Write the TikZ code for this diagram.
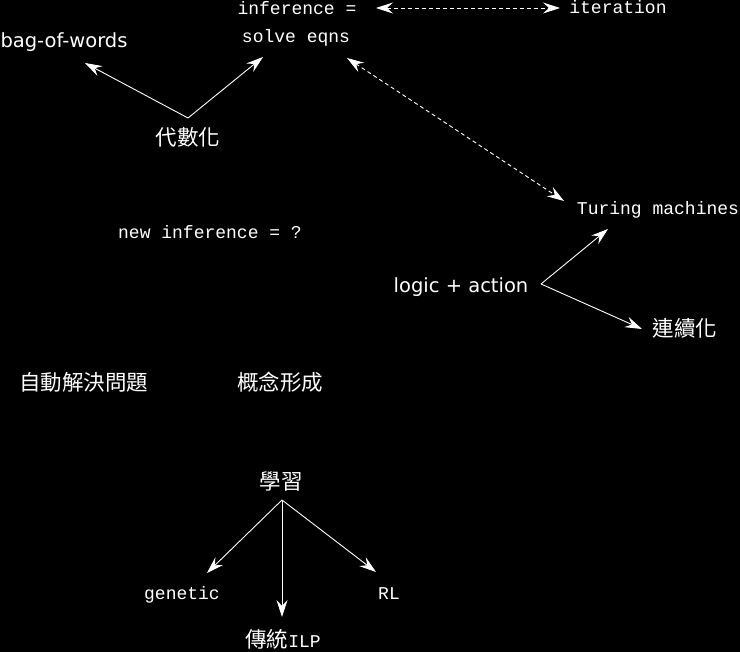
\documentclass[tikz,border=0pt]{standalone}
\usepackage{fontspec}
\usepackage{tikz}
\usetikzlibrary{arrows.meta,calc}
\newfontfamily\monofont{Liberation Mono}
\newfontfamily\sansfont{DejaVu Sans}
\newfontfamily\cjk{Noto Sans CJK TC}

\tikzset{
	txt/.style={text=white,inner sep=0pt,anchor=base},
	mono/.style={txt,font=\monofont\fontsize{18}{22}\selectfont},
	sans/.style={txt,font=\sansfont\fontsize{19.5}{23}\selectfont},
	han/.style={txt,font=\cjk\fontsize{21.5}{25}\selectfont},
	tip/.tip={Stealth[length=17pt,width=11pt,inset=6pt]},
	arr/.style={draw=white,line width=0.9pt,-tip},
	darr/.style={draw=white,line width=0.9pt,dash pattern=on 4pt off 3pt,tip-tip}
}

\begin{document}
\begin{tikzpicture}[x=1pt,y=-1pt]
				\fill[black] (0,0) rectangle (740,652);
				\useasboundingbox (0,0) rectangle (740,652);
				%Nodes
				\node[mono] 		 (infer) at (297,15) {inference =};
				\node[mono] 		 (solve) at (296,43) {solve eqns};
				\node[mono] 		 (iter) at (618,14) {iteration};
				\node[sans] 		 (bag) at (64,48) {bag-of-words};
				\node[han] 		 (alg) at (188,146) {代數化};
				\node[mono] 		 (turing) at (658,215) {Turing machines};
				\node[mono] 		 (newinf) at (210,239) {new inference = ?};
				\node[sans] 		 (logic) at (461,293) {logic + action};
				\node[han] 		 (cont) at (685,337) {連續化};
				\node[han] 		 (auto) at (84,391) {自動解決問題};
				\node[han] 		 (concept) at (280,391) {概念形成};
				\node[han] 		 (learn) at (281,490) {學習};
				\node[mono] 		 (genetic) at (182,600) {genetic};
				\node[mono] 		 (rl) at (389,600) {RL};
				\node[txt] 		 (ilp) at (283,648) {\cjk\fontsize{21.5}{25}\selectfont 傳統\monofont\fontsize{18}{22}\selectfont ILP};

				%Lines
				\draw[darr] ($(infer.base)+(79,-7)$) -- ($(iter.base)+(-58,-6)$);
				\draw[darr] ($(solve.base)+(51,15)$) -- ($(turing.base)+(-94,-14)$);

				\draw[arr] ($(alg.base)+(0,-28)$) -- ($(bag.base)+(21,15)$);
				\draw[arr] ($(alg.base)+(0,-28)$) -- ($(solve.base)+(-33,14)$);

				\draw[arr] ($(logic.base)+(80,-9)$) -- ($(turing.base)+(-50,14)$);
				\draw[arr] ($(logic.base)+(80,-9)$) -- ($(cont.base)+(-43,-8)$);

				\draw[arr] ($(learn.base)+(1,10)$) -- ($(genetic.base)+(25,-27)$);
				\draw[arr] ($(learn.base)+(1,10)$) -- ($(ilp.base)+(-1,-31)$);
				\draw[arr] ($(learn.base)+(1,10)$) -- ($(rl.base)+(-13,-28)$);

		\end{tikzpicture}
\end{document}
